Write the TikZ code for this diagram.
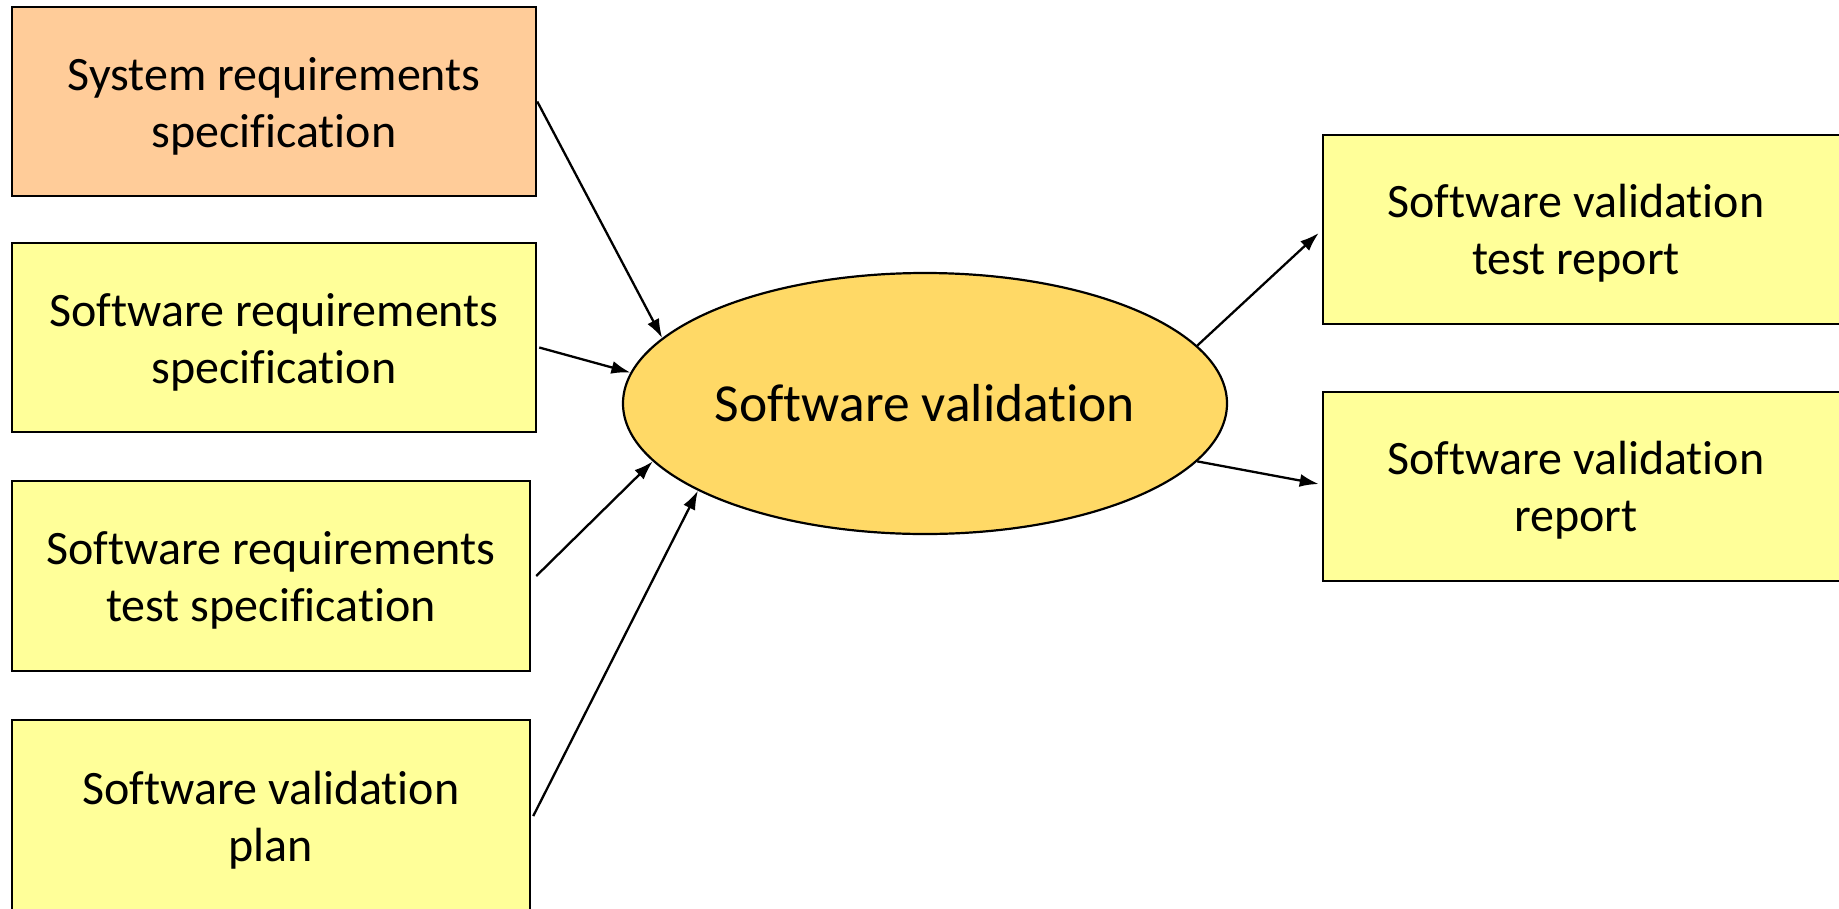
\documentclass[tikz,border=0pt]{standalone}
\usepackage{fontspec}
\setmainfont[Ligatures=NoCommon]{Carlito}
\usetikzlibrary{shapes.geometric,arrows.meta}
\definecolor{inorange}{HTML}{FFCC99}
\definecolor{inyellow}{HTML}{FFFF99}
\definecolor{procgold}{HTML}{FFD966}
\tikzset{
  docbox/.style={draw=black, line width=2.5pt, rectangle, inner sep=0pt, align=center},
  lbl/.style={inner sep=0pt, align=center, font=\fontsize{48}{57}\selectfont},
  procell/.style={draw=black, line width=2.2pt, ellipse, fill=procgold, inner sep=0pt,
    minimum width=604pt, minimum height=261pt, font=\fontsize{53.5}{63}\selectfont},
  flow/.style={line width=2.3pt, -{Latex[length=19pt,width=13pt]}}
}
\begin{document}
\begin{tikzpicture}[x=1pt,y=-1pt]
\useasboundingbox (0,0) rectangle (1839,908);
\begin{scope}
\clip (0,0) rectangle (1839,908);
\node[docbox, fill=inorange, minimum width=524pt, minimum height=189pt] (b1) at (274,101.5) {};
\node[lbl] (t1) at (274,106) {System requirements\\specification};
\node[docbox, fill=inyellow, minimum width=524pt, minimum height=189pt] (b2) at (274,337.5) {};
\node[lbl] (t2) at (274,342) {Software requirements\\specification};
\node[docbox, fill=inyellow, minimum width=518pt, minimum height=190pt] (b3) at (271,576) {};
\node[lbl] (t3) at (271,580.5) {Software requirements\\test specification};
\node[docbox, fill=inyellow, minimum width=518pt, minimum height=192pt] (b4) at (271,816) {};
\node[lbl] (t4) at (271,820.5) {Software validation\\plan};
\node[docbox, fill=inyellow, minimum width=530pt, minimum height=189pt] (o1) at (1588,229.5) {};
\node[lbl] (t5) at (1576,233) {Software validation\\test report};
\node[docbox, fill=inyellow, minimum width=530pt, minimum height=189pt] (o2) at (1588,486.5) {};
\node[lbl] (t6) at (1576,490) {Software validation\\report};
\node[procell] (sv) at (925,403.5) {Software validation};
\end{scope}
\draw[flow] (b1.east) -- (sv.166);
\draw[flow] ([shift={(2pt,-10pt)}]b2.east) -- (sv.174);
\draw[flow] ([xshift=5pt]b3.east) -- (sv.192);
\draw[flow] ([xshift=2pt]b4.east) -- (sv.201);
\draw[flow] (sv.12) -- ([shift={(-3pt,-3.5pt)}]o1.west);
\draw[flow] (sv.-12) -- ([shift={(-3pt,2.5pt)}]o2.west);
\end{tikzpicture}
\end{document}
